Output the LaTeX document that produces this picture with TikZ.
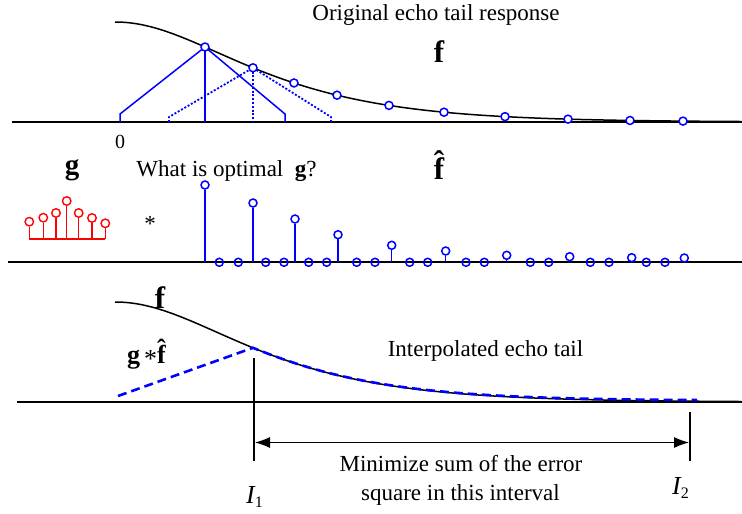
\documentclass[tikz,border=0pt]{standalone}
\usepackage{fontspec}
\setmainfont{Liberation Serif}
\usetikzlibrary{arrows.meta}
\newcommand{\myhat}[2]{{\ooalign{\hfil\raisebox{#1}{ˆ}\hfil\cr #2\cr}}}
\begin{document}
\begin{tikzpicture}[x=1pt,y=-1pt,
  declare function={fy(\t)=122-100*exp(-1.05*(sqrt(((\t-115)/100)^2+1.7956)-1.34));},
  axisline/.style={line width=1.7pt,black},
  fcurve/.style={line width=1.5pt,black},
  bcirc/.style={circle,draw=blue,fill=white,line width=1.5pt,inner sep=0pt,minimum size=8pt},
  zcirc/.style={circle,draw=blue,line width=1.5pt,inner sep=0pt,minimum size=8pt},
  rcirc/.style={circle,draw=red,fill=white,line width=1.4pt,inner sep=0pt,minimum size=8.5pt},
  txt/.style={font=\fontsize{23}{27}\selectfont,inner sep=0pt,anchor=base},
  boldlab/.style={font=\fontsize{31}{33}\selectfont\bfseries,inner sep=0pt,anchor=base},
  ilab/.style={font=\fontsize{26}{28}\selectfont,inner sep=0pt,anchor=base west}
]
\useasboundingbox (0,0) rectangle (742,514);

% ================= Panel 1 =================
\coordinate (ax1l) at (12,122);
\coordinate (ax1r) at (742,122);
\draw[axisline] (ax1l) -- (ax1r);
\draw[fcurve] plot[domain=115:742,samples=160] (\x,{fy(\x)});

\coordinate (t1a) at (120,122); \coordinate (t1b) at (120,114);
\coordinate (t1c) at (285,114); \coordinate (t1d) at (285,122);
\coordinate (t1m) at (205,122);
\coordinate (t2a) at (169,122); \coordinate (t2b) at (169,117);
\coordinate (t2c) at (331,117); \coordinate (t2d) at (331,122);
\coordinate (t2m) at (253,122);

\coordinate (p1) at (205,{fy(205)});
\coordinate (p2) at (253,{fy(253)});
\draw[blue,line width=1.5pt] (t1a) -- (t1b) -- (p1) -- (t1c) -- (t1d);
\draw[blue,line width=1.5pt] (p1) -- (t1m);
\draw[blue,line width=1.8pt,dash pattern=on 2pt off 1.8pt] (t2a) -- (t2b) -- (p2) -- (t2c) -- (t2d);
\draw[blue,line width=1.8pt,dash pattern=on 2pt off 1.8pt] (p2) -- (t2m);
\foreach \x [count=\i] in {205,253,294,337,389,444,505,568,630,683}
  \node[bcirc] (c\i) at (\x,{fy(\x)}) {};

\node[txt] (title1) at (436,20.5) {Original echo tail response};
\node[boldlab] (f1) at (439,62) {f};
\node[font=\fontsize{20}{22}\selectfont,inner sep=0pt,anchor=base] (zero) at (120,148.5) {0};

% ================= Panel 2 =================
\coordinate (ax2l) at (8,262);
\coordinate (ax2r) at (742,262);
\draw[axisline] (ax2l) -- (ax2r);

\node[boldlab,font=\fontsize{29}{31}\selectfont\bfseries] (g) at (72,174) {g};
\node[txt] (q) at (226.5,176.7) {What is optimal\ \ \textbf{g}?};
\node[boldlab] (fh) at (439,179.3) {\myhat{6.5pt}{f}};
\node[font=\fontsize{23}{27}\selectfont,inner sep=0pt] (star) at (150,224) {*};

% red g filter
\coordinate (rgl) at (29,239);
\coordinate (rgr) at (105,239);
\draw[red,line width=1.4pt] (rgl) -- (rgr);
\foreach \x/\y [count=\i] in {29.3/221.7,43.3/217.7,56/213,66.7/201,78.7/213,92/218,105.3/223.3}{
  \coordinate (rb\i) at (\x,239);
  \node[rcirc] (r\i) at (\x,\y) {};
  \draw[red,line width=1.4pt] (rb\i) -- (r\i);
}

% blue stems
\foreach \x/\y/\w [count=\i] in {205/185/2,253/203/2,295/219/1.4,338/234.7/1.4,391.7/245.3/1.4,445.7/251/1.4,506.7/255.3/1.4,569.7/256.7/1.4,631.7/257.7/1.4,684.3/258/1.4}{
  \coordinate (sb\i) at (\x,262);
  \node[bcirc] (s\i) at (\x,\y) {};
  \draw[blue,line width=\w pt] (sb\i) -- (s\i);
}
% zero samples
\foreach \x [count=\i] in {219.3,238.3,265.7,284,308.7,326.7,356.7,375,409.7,427.7,466,484.3,530.3,548.7,590.3,609,646.3,665}
  \node[zcirc] (z\i) at (\x,262.3) {};

% ================= Panel 3 =================
\coordinate (ax3l) at (17,402);
\coordinate (ax3r) at (742,402);
\draw[axisline] (ax3l) -- (ax3r);
\draw[fcurve] plot[domain=115:742,samples=160] (\x,{fy(\x)+280});
\coordinate (gstart) at (118,396);
\coordinate (gpeak) at (253,{fy(253)+280});
\draw[blue,line width=2.6pt,dash pattern=on 9pt off 5pt] (gstart) -- (gpeak) -- plot[domain=253:697,samples=100] (\x,{fy(\x)+280-1.2*(\x-253)/444});

\node[boldlab] (f3) at (160,308) {f};
\node[font=\fontsize{26}{28}\selectfont\bfseries,inner sep=0pt,anchor=base west] (g3) at (127,363)
  {g\hspace{4pt}\raisebox{-4pt}{\mdseries *}\myhat{6pt}{f}};

\node[txt] (interp) at (485.5,356.7) {Interpolated echo tail};

% interval markers
\coordinate (i1t) at (254,358); \coordinate (i1b) at (254,461);
\coordinate (i2t) at (690,412); \coordinate (i2b) at (690,461);
\draw[line width=1.3pt] (i1t) -- (i1b);
\draw[line width=1.3pt] (i2t) -- (i2b);
\coordinate (arl) at (255,442.5);
\coordinate (arr) at (689,442.5);
\draw[line width=1pt,{Latex[length=15pt,width=11pt]}-{Latex[length=15pt,width=11pt]}] (arl) -- (arr);

\node[txt] (min1) at (461,471.7) {Minimize sum of the error};
\node[txt] (min2) at (460.5,500) {square in this interval};

\node[ilab] (I1) at (246,503) {\itshape I\raisebox{-4pt}{\upshape\fontsize{16}{16}\selectfont 1}};
\node[ilab] (I2) at (672,494) {\itshape I\raisebox{-4pt}{\upshape\fontsize{16}{16}\selectfont 2}};
\end{tikzpicture}
\end{document}
